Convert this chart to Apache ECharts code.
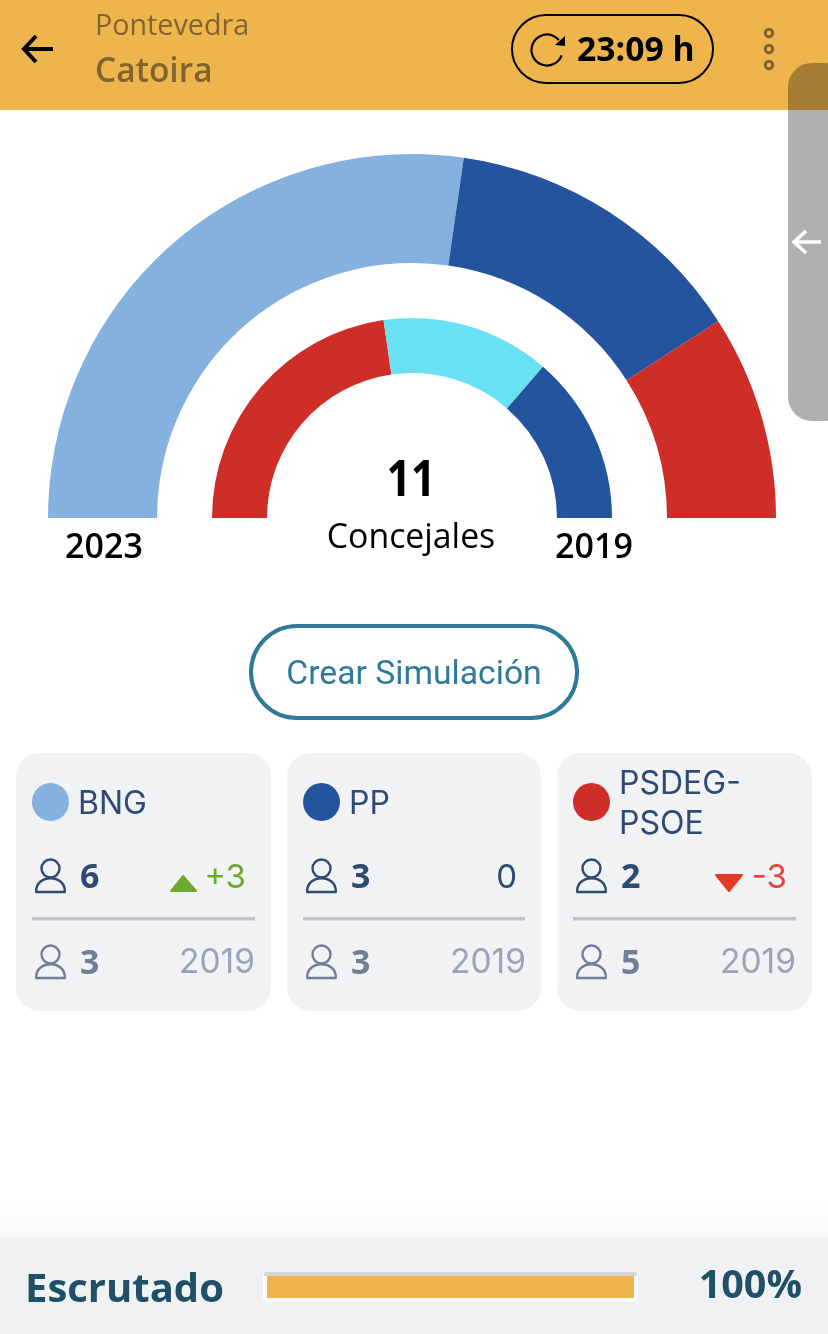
<!DOCTYPE html>
<html>
<head>
<meta charset="utf-8">
<style>
html, body {margin:0; padding:0; background:#fff;}
#main {width:828px; height:1334px;}
</style>
<script src="https://cdn.jsdelivr.net/npm/echarts@6/dist/echarts.min.js"></script>
</head>
<body>
<div id="main"></div>
<script>
// data
var parties = ['BNG', 'PP', 'PSDEG-PSOE'];
var partyColors = ['#85b1de', '#23549d', '#cf2e28'];
var seats2023 = [6, 3, 2];
var seats2019 = [3, 3, 5];
var seatDiffs = ['+3', '0', '-3'];

var ring2019Names = ['PSDEG-PSOE', 'BNG', 'PP'];
var ring2019Values = [5, 3, 3];
var ring2019Colors = ['#cf2e28', '#69e1f5', '#23549d'];

var totalSeats = 11;
var scrutinyPct = 100;

var ink = '#2f4a73';
var inkSoft = '#727e98';
var yearGrey = '#98a4ba';
var openSans = '"Open Sans"';
var inter = 'Inter';

var dom = document.getElementById('main');
var chart = echarts.init(dom, null, {renderer: 'canvas'});

function txt(text, x, y, font, fill, align, sx) {
    return {
        type: 'text',
        z: 5,
        x: x,
        y: y + 2,
        scaleX: sx || 1,
        style: {text: text, x: 0, y: 0, font: font, fill: fill, align: align || 'left', verticalAlign: 'middle'}
    };
}

function personIcon(x, y, color) {
    // x,y = left/top of the icon box, about 32x36
    return [
        {type: 'circle', z: 5, shape: {cx: x + 15.5, cy: y + 10.5, r: 9}, style: {fill: 'none', stroke: color, lineWidth: 2.4}},
        {type: 'bezierCurve', z: 5, shape: {x1: x + 1.2, y1: y + 33, cpx1: x + 1, cpy1: y + 16, cpx2: x + 30, cpy2: y + 16, x2: x + 29.8, y2: y + 33}, style: {fill: 'none', stroke: color, lineWidth: 2.4}},
        {type: 'line', z: 5, shape: {x1: x + 1.2, y1: y + 34, x2: x + 29.8, y2: y + 34}, style: {stroke: color, lineWidth: 2.4, lineCap: 'round'}}
    ];
}

var cardX = [16, 287, 557];
var cardW = [255, 254, 255];
var els = [];

// header
els.push({type: 'rect', z: 1, shape: {x: 0, y: 0, width: 828, height: 110}, style: {fill: '#efb54d'}});
els.push({type: 'polyline', z: 5, shape: {points: [[36, 36], [24, 49], [36, 62]]}, style: {fill: 'none', stroke: '#000', lineWidth: 4}});
els.push({type: 'line', z: 5, shape: {x1: 24, y1: 49, x2: 53, y2: 49}, style: {stroke: '#000', lineWidth: 4}});
els.push(txt('Pontevedra', 95, 25, '400 28.7px ' + openSans, '#85632f'));
els.push(txt('Catoira', 95, 70, '600 33.5px ' + openSans, '#85632f'));
els.push({type: 'rect', z: 5, shape: {x: 512, y: 15, width: 201, height: 68, r: 34}, style: {fill: 'none', stroke: '#000', lineWidth: 2}});
els.push({type: 'arc', z: 5, shape: {cx: 547, cy: 50, r: 15.5, startAngle: 0.35, endAngle: 5.58, clockwise: true}, style: {fill: 'none', stroke: '#000', lineWidth: 2.2}});
els.push({type: 'polygon', z: 5, shape: {points: [[565, 36], [565, 46], [555, 45]]}, style: {fill: '#000'}});
els.push(txt('23:09 h', 577, 49, '700 33.7px ' + openSans, '#000'));
[33, 49, 65].forEach(function (cy) {
    els.push({type: 'circle', z: 5, shape: {cx: 769, cy: cy, r: 3.7}, style: {fill: 'none', stroke: '#7f6232', lineWidth: 3}});
});

// center + year labels
els.push(txt(String(totalSeats), 411, 480, '700 50px ' + openSans, '#000', 'center', 0.86));
els.push(txt('Concejales', 411, 536, '400 33.8px ' + openSans, '#000', 'center'));
els.push(txt('2023', 104, 546, '600 34px ' + openSans, '#000', 'center'));
els.push(txt('2019', 594, 546, '600 34px ' + openSans, '#000', 'center'));

// button
els.push({type: 'rect', z: 5, shape: {x: 251, y: 626, width: 326, height: 92, r: 46}, style: {fill: '#fff', stroke: '#2f7a9a', lineWidth: 4}});
els.push(txt('Crear Simulación', 414, 674, '400 33.7px Roboto', '#2f7a9a', 'center'));

// party cards
parties.forEach(function (name, i) {
    var x = cardX[i], w = cardW[i];
    els.push({type: 'rect', z: 1, shape: {x: x, y: 753, width: w, height: 258, r: 24}, style: {fill: '#f0f2f4'}});
    els.push({type: 'ellipse', z: 5, shape: {cx: x + 34.5, cy: 802, rx: 18.5, ry: 19}, style: {fill: partyColors[i]}});
    var parts = name.indexOf('-') > 0 ? [name.split('-')[0] + '-', name.split('-')[1]] : [name];
    if (parts.length > 1) {
        els.push(txt(parts[0], x + 62, 782, '400 32px ' + inter, ink));
        els.push(txt(parts[1], x + 62, 822, '400 32px ' + inter, ink));
    } else {
        els.push(txt(name, x + 62, 802, '400 32px ' + inter, ink));
    }
    personIcon(x + 19, 858, ink).forEach(function (e) { els.push(e); });
    els.push(txt(String(seats2023[i]), x + 64, 876, '700 34px ' + openSans, ink));
    var diffColor = seatDiffs[i][0] === '+' ? '#6fa82f' : (seatDiffs[i][0] === '-' ? '#e0473f' : ink);
    els.push(txt(seatDiffs[i], x + 230, 876, '400 33px ' + inter, diffColor, 'right'));
    if (seatDiffs[i][0] === '+') {
        els.push({type: 'polygon', z: 5, shape: {points: [[x + 155, 891], [x + 167, 876], [x + 180, 891]]}, style: {fill: '#6fa82f', stroke: '#6fa82f', lineWidth: 2, lineJoin: 'round'}});
    } else if (seatDiffs[i][0] === '-') {
        els.push({type: 'polygon', z: 5, shape: {points: [[x + 159, 875], [x + 185, 875], [x + 172, 891]]}, style: {fill: '#e83a23', stroke: '#e83a23', lineWidth: 2, lineJoin: 'round'}});
    }
    els.push({type: 'rect', z: 5, shape: {x: x + 16, y: 917, width: w - 32, height: 3.5}, style: {fill: '#bfc3d0'}});
    personIcon(x + 19, 944, inkSoft).forEach(function (e) { els.push(e); });
    els.push(txt(String(seats2019[i]), x + 64, 962, '700 34px ' + openSans, inkSoft));
    els.push(txt('2019', x + 239, 961, '400 33.5px ' + inter, yearGrey, 'right'));
});

// bottom scrutiny bar
els.push({type: 'rect', z: 1, shape: {x: 0, y: 1200, width: 828, height: 37},
    style: {fill: new echarts.graphic.LinearGradient(0, 0, 0, 1, [{offset: 0, color: '#ffffff'}, {offset: 1, color: '#f9f9fa'}])}});
els.push({type: 'rect', z: 1, shape: {x: 0, y: 1237, width: 828, height: 97}, style: {fill: '#f0f1f3'}});
els.push({type: 'rect', z: 1, shape: {x: 263, y: 1272, width: 375, height: 30, r: 5}, style: {fill: '#fff'}});
els.push({type: 'rect', z: 1, shape: {x: 264, y: 1272, width: 373, height: 4, r: [3, 3, 0, 0]}, style: {fill: '#d3d4d3'}});
els.push(txt('Escrutado', 25, 1289, '700 40px ' + openSans, '#1f5068'));
els.push(txt(scrutinyPct + '%', 802, 1285, '700 39.5px ' + openSans, '#1f5068', 'right'));

// side handle over everything
els.push({type: 'rect', z: 20, shape: {x: 788, y: 63, width: 60, height: 358, r: 24}, style: {fill: 'rgba(0,0,0,0.31)'}});
els.push({type: 'polyline', z: 21, shape: {points: [[806, 231], [794, 242], [806, 253]]}, style: {fill: 'none', stroke: '#fff', lineWidth: 3.5}});
els.push({type: 'line', z: 21, shape: {x1: 794, y1: 242, x2: 821, y2: 242}, style: {stroke: '#fff', lineWidth: 3.5}});

var option = {
    backgroundColor: '#fff',
    animation: false,
    graphic: {elements: els},
    grid: {left: 267, top: 1276, width: 367, height: 22},
    xAxis: {type: 'value', min: 0, max: 100, show: false},
    yAxis: {type: 'category', data: ['Escrutado'], show: false},
    series: [
        {
            name: '2023',
            type: 'pie',
            silent: true,
            center: [412, 518],
            radius: [255, 364],
            startAngle: 180,
            endAngle: 0,
            label: {show: false},
            labelLine: {show: false},
            data: parties.map(function (n, i) {
                return {name: n, value: seats2023[i], itemStyle: {color: partyColors[i]}};
            })
        },
        {
            name: '2019',
            type: 'pie',
            silent: true,
            center: [412, 518],
            radius: [145, 200],
            startAngle: 180,
            endAngle: 0,
            label: {show: false},
            labelLine: {show: false},
            data: ring2019Names.map(function (n, i) {
                return {name: n, value: ring2019Values[i], itemStyle: {color: ring2019Colors[i]}};
            })
        },
        {
            name: 'Escrutado',
            type: 'bar',
            silent: true,
            barWidth: 22,
            z: 3,
            itemStyle: {color: '#efb54d'},
            data: [scrutinyPct]
        }
    ]
};

chart.setOption(option, true);
</script>
</body>
</html>
